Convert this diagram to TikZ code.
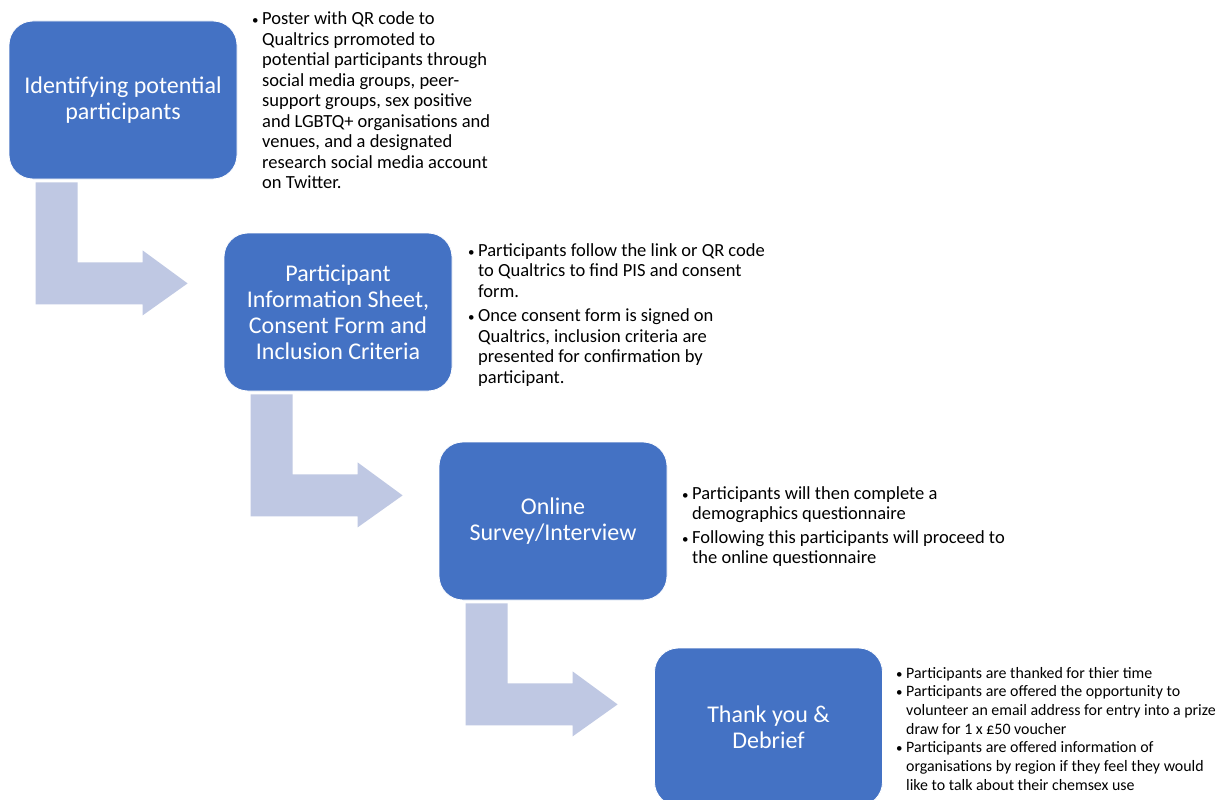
\documentclass[tikz,border=0pt]{standalone}
\usepackage{fontspec}
\setmainfont{Carlito}
\definecolor{boxblue}{RGB}{68,114,196}
\definecolor{arrowblue}{RGB}{191,200,227}
\tikzset{
  stepbox/.style={draw=white, line width=0.8pt, fill=boxblue, rounded corners=24pt,
    minimum width=228pt, minimum height=158pt, inner sep=0pt, text=white,
    align=center, font=\fontsize{24}{26}\selectfont},
  bullets/.style={inner sep=0pt, anchor=base west, text=black,
    font=\fontsize{18.5}{20.5}\selectfont},
  smallbullets/.style={bullets, font=\fontsize{15.9}{18.7}\selectfont},
  bentarrow/.style={fill=arrowblue, draw=none}
}
\newcommand\bendarrow[1]{%
  \fill[bentarrow, shift={(#1.south west)}] (27,3) -- (69,3) -- (69,83) -- (134,83)
    -- (134,71) -- (179,104) -- (134,136) -- (134,125) -- (27,125) -- cycle;}
\newcommand\bl{{\fontsize{13}{13}\selectfont\textbullet}}
\begin{document}
\begin{tikzpicture}[x=1pt,y=-1pt]
\useasboundingbox (0,0) rectangle (1219,800);
\clip (0,0) rectangle (1219,800);
\fill[white] (0,0) rectangle (1219,800);

\node[stepbox] (b1) at (123,100) {Identifying potential\\participants};
\node[stepbox] (b2) at (338,312) {Participant\\Information Sheet,\\Consent Form and\\Inclusion Criteria};
\node[stepbox] (b3) at (553,521) {Online\\Survey/Interview};
\node[stepbox] (b4) at (768.5,727) {Thank you \&\\Debrief};

\bendarrow{b1}
\bendarrow{b2}
\bendarrow{b3}

\node[bullets] (t1) at (252,25) {\begin{tabular}[t]{@{}p{10pt}@{}l@{}}
\bl & Poster with QR code to\\
 & Qualtrics prromoted to\\
 & potential participants through\\
 & social media groups, peer-\\
 & support groups, sex positive\\
 & and LGBTQ+ organisations and\\
 & venues, and a designated\\
 & research social media account\\
 & on Twitter.
\end{tabular}};

\node[bullets] (t2) at (468,256) {\begin{tabular}[t]{@{}p{10pt}@{}l@{}}
\bl & Participants follow the link or QR code\\
 & to Qualtrics to find PIS and consent\\
 & form.\\[4pt]
\bl & Once consent form is signed on\\
 & Qualtrics, inclusion criteria are\\
 & presented for confirmation by\\
 & participant.
\end{tabular}};

\node[bullets] (t3) at (682,499) {\begin{tabular}[t]{@{}p{10pt}@{}l@{}}
\bl & Participants will then complete a\\
 & demographics questionnaire\\[3pt]
\bl & Following this participants will proceed to\\
 & the online questionnaire
\end{tabular}};

\node[smallbullets] (t4) at (896,678) {\begin{tabular}[t]{@{}p{10pt}@{}l@{}}
\bl & Participants are thanked for thier time\\
\bl & Participants are offered the opportunity to\\
 & volunteer an email address for entry into a prize\\
 & draw for 1 x £50 voucher\\
\bl & Participants are offered information of\\
 & organisations by region if they feel they would\\
 & like to talk about their chemsex use
\end{tabular}};
\end{tikzpicture}
\end{document}
